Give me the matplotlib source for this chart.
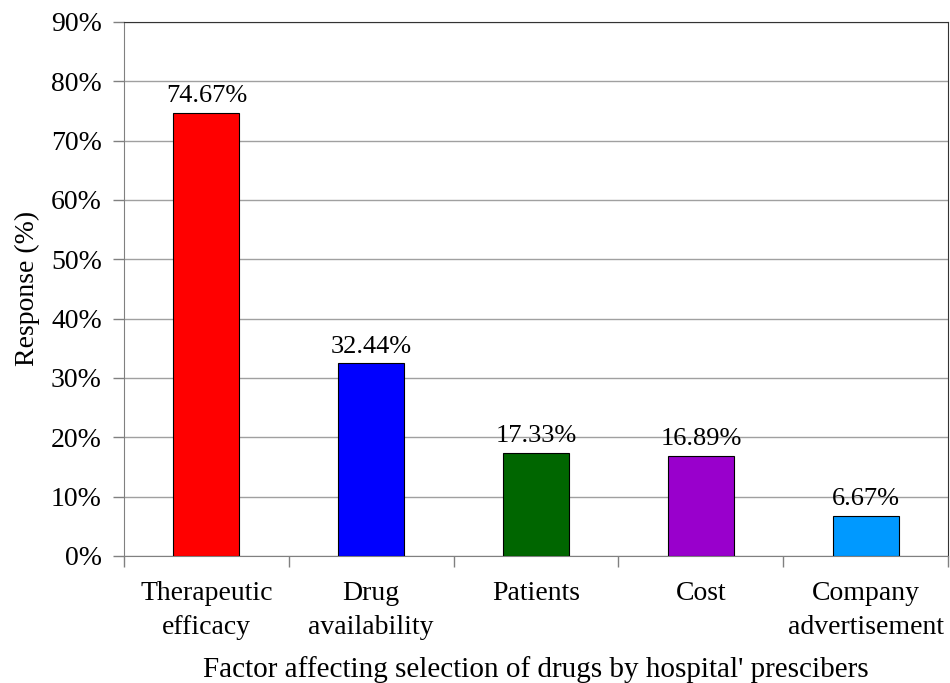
import numpy as np
import matplotlib
matplotlib.use('Agg')
import matplotlib.pyplot as plt
from matplotlib.ticker import FuncFormatter

plt.rcParams['font.family'] = ['Liberation Serif', 'DejaVu Serif']

# Dados
fatores = ['Therapeutic\nefficacy', 'Drug\navailability', 'Patients', 'Cost',
           'Company\nadvertisement']
respostas = [74.67, 32.44, 17.33, 16.89, 6.67]
cores = ['#FF0000', '#0000FF', '#006600', '#9900CC', '#0099FF']
yticks = [0, 10, 20, 30, 40, 50, 60, 70, 80, 90]

fs = 20

fig = plt.figure(figsize=(9.5, 6.83), dpi=100)
ax = fig.add_axes([0.1305, 0.186, 0.8675, 0.782])

x = np.arange(len(fatores))
ax.bar(x, respostas, width=0.4, color=cores, edgecolor='black', linewidth=0.8, zorder=3)

for xi, v in zip(x, respostas):
    ax.text(xi, v + 1.0, f'{v:.2f}%', ha='center', va='bottom', fontsize=fs - 1)

ax.set_xlim(-0.5, len(fatores) - 0.5)
ax.set_ylim(0, 90)
ax.set_yticks(yticks)
ax.yaxis.set_major_formatter(FuncFormatter(lambda v, p: f'{v:.0f}%'))
ax.grid(True, axis='y', color='#a0a0a0', linewidth=1.0, zorder=0)

# Ticks do eixo x entre as categorias
ax.set_xticks(np.arange(len(fatores) + 1) - 0.5)
ax.set_xticklabels([])
ax.set_xticks(x, minor=True)
ax.set_xticklabels(fatores, minor=True, fontsize=fs, linespacing=1.45)
ax.tick_params(axis='x', which='minor', length=0, pad=18)
ax.tick_params(axis='x', which='major', length=8, color='#808080', width=1)
ax.tick_params(axis='y', length=8, color='#808080', width=1, labelsize=fs, pad=8)

for lado in ['left', 'bottom']:
    ax.spines[lado].set_color('#808080')
for lado in ['top', 'right']:
    ax.spines[lado].set_color('#333333')

ax.set_ylabel('Response (%)', fontsize=fs, labelpad=8)
ax.set_xlabel("Factor affecting selection of drugs by hospital' prescibers", fontsize=fs + 1, labelpad=12)

fig.savefig('out.png', dpi=100)
